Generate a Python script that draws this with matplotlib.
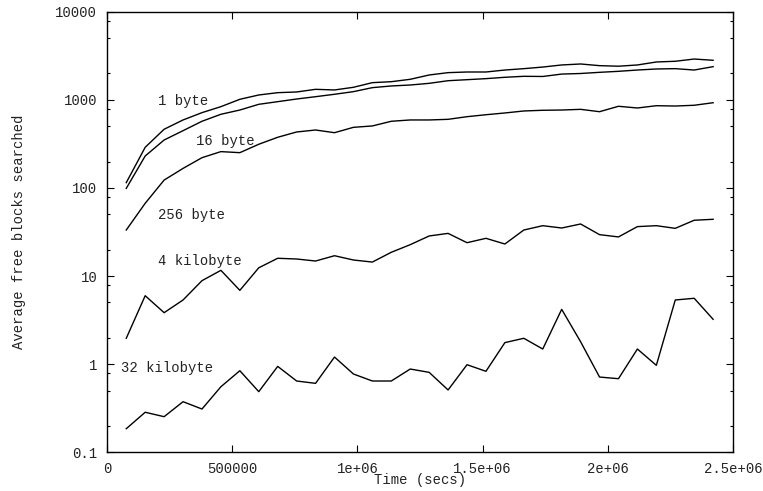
import matplotlib
matplotlib.use("Agg")
import matplotlib.pyplot as plt
from matplotlib.ticker import FixedLocator, NullFormatter

plt.rcParams['font.family'] = ['Liberation Mono', 'DejaVu Sans Mono']

# sample times (secs)
times = [77000, 152600, 228200, 303800, 379400, 455000, 530600, 606200,
         681800, 757400, 833000, 908600, 984200, 1059800, 1135400, 1211000,
         1286600, 1362200, 1437800, 1513400, 1589000, 1664600, 1740200, 1815800,
         1891400, 1967000, 2042600, 2118200, 2193800, 2269400, 2345000, 2420600]

byte1 = [115, 290, 465, 593, 718, 840, 1018, 1140, 1211, 1233, 1322, 1300,
         1394, 1574, 1614, 1718, 1923, 2045, 2080, 2080, 2190, 2270, 2367, 2500,
         2565, 2455, 2420, 2500, 2703, 2754, 2920, 2825]
byte16 = [99, 231, 351, 448, 573, 688, 769, 893, 957, 1026, 1090, 1161,
          1244, 1381, 1443, 1480, 1546, 1656, 1701, 1748, 1811, 1858, 1850, 1970,
          2000, 2062, 2117, 2190, 2250, 2270, 2190, 2392]
byte256 = [33.3, 67, 123, 167, 221, 259, 252, 314, 377, 433, 456, 425,
           489, 507, 573, 593, 593, 603, 646, 680, 712, 750, 764, 769,
           783, 736, 848, 811, 861, 854, 871, 931]
kb4 = [1.96, 5.97, 3.83, 5.34, 8.85, 11.6, 6.87, 12.4, 15.9, 15.6, 14.8, 17.0,
       15.2, 14.4, 18.6, 22.7, 28.5, 30.5, 23.9, 26.8, 23.1, 33.3, 37.3, 35.1,
       39.0, 29.5, 27.8, 36.4, 37.3, 34.8, 43.0, 44.1]
kb32 = [0.184, 0.283, 0.252, 0.373, 0.308, 0.552, 0.839, 0.485, 0.940, 0.641,
        0.603, 1.20, 0.770, 0.641, 0.641, 0.877, 0.804, 0.507, 0.982, 0.826,
        1.75, 1.96, 1.48, 4.18, 1.79, 0.711, 0.681, 1.48, 0.966, 5.34, 5.58, 3.22]

series = [byte1, byte16, byte256, kb4, kb32]
labels = ["1 byte", "16 byte", "256 byte", "4 kilobyte", "32 kilobyte"]
label_x = [204000, 355000, 204000, 204000, 55000]
label_y = [981, 345, 49.3, 14.8, 0.893]

xticks = [0, 500000, 1000000, 1500000, 2000000, 2500000]
xticklabels = ["0", "500000", "1e+06", "1.5e+06", "2e+06", "2.5e+06"]
yticks = [0.1, 1, 10, 100, 1000, 10000]
yticklabels = ["0.1", "1", "10", "100", "1000", "10000"]
yminor = [m * 10.0 ** e for e in range(-1, 4) for m in (2, 5, 8)]

fig = plt.figure(figsize=(7.63, 4.91), dpi=100)
ax = fig.add_axes([0.1402, 0.0794, 0.8205, 0.8962])

for s in series:
    ax.plot(times, s, color='black', linewidth=1.0)

for lab, lx, ly in zip(labels, label_x, label_y):
    ax.text(lx, ly, lab, ha='left', va='center', fontsize=10, color='#222222')

ax.set_yscale('log')
ax.set_xlim(0, 2500000)
ax.set_ylim(0.1, 10000)

ax.set_xticks(xticks)
ax.set_xticklabels(xticklabels)
ax.set_yticks(yticks)
ax.set_yticklabels(yticklabels)
ax.yaxis.set_minor_locator(FixedLocator(yminor))
ax.yaxis.set_minor_formatter(NullFormatter())

ax.tick_params(which='major', direction='in', length=5, width=0.8,
               top=True, right=True, labelsize=10, labelcolor='#222222')
ax.tick_params(which='minor', direction='in', length=2.5, width=0.8,
               top=False, right=True)
ax.tick_params(axis='x', pad=7)
ax.tick_params(axis='y', pad=7)

for sp in ax.spines.values():
    sp.set_linewidth(1.0)

ax.set_xlabel("Time (secs)", fontsize=10, color='#222222', labelpad=-2)
ax.set_ylabel("Average free blocks searched", fontsize=10, color='#222222', labelpad=21)

fig.savefig("out.png", dpi=100)
